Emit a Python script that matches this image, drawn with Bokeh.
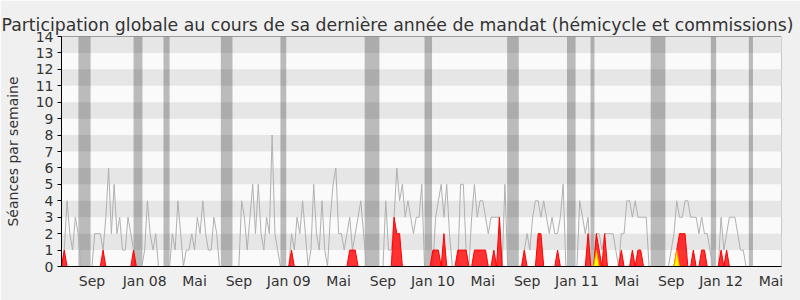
from bokeh.plotting import figure
from bokeh.models import Range1d, FixedTicker, Span
from bokeh.embed import file_html
from bokeh.resources import INLINE

# ---- data (weekly index) ----
weeks = list(range(260))

total = [
    0, 1, 4, 2, 1, 3, 2, 0, 0, 0,
    0, 0, 2, 2, 2, 1, 3, 6, 2, 5,
    2, 3, 1, 1, 3, 2, 1, 0, 0, 0,
    1, 4, 2, 1, 2, 0, 0, 0, 0, 0,
    2, 1, 4, 2, 0, 1, 1, 2, 1, 3,
    2, 4, 2, 1, 1, 3, 2, 0, 0, 0,
    0, 0, 0, 0, 0, 4, 3, 1, 3, 5,
    2, 5, 2, 1, 3, 2, 8, 2, 1, 0,
    0, 0, 0, 2, 1, 3, 2, 4, 2, 0,
    1, 5, 2, 1, 4, 1, 0, 3, 5, 6,
    2, 2, 1, 2, 3, 1, 2, 3, 4, 2,
    0, 0, 0, 0, 0, 0, 0, 4, 1, 1,
    3, 6, 4, 5, 3, 4, 3, 2, 3, 3,
    5, 0, 0, 0, 0, 3, 4, 5, 3, 5,
    2, 0, 0, 0, 5, 5, 1, 0, 3, 5,
    3, 4, 4, 3, 2, 3, 3, 3, 3, 0,
    5, 0, 0, 0, 0, 0, 0, 1, 2, 1,
    3, 4, 4, 3, 4, 3, 2, 3, 2, 2,
    3, 5, 0, 0, 0, 0, 0, 4, 3, 2,
    3, 0, 0, 2, 2, 1, 2, 2, 2, 2,
    1, 0, 2, 2, 4, 4, 3, 4, 3, 3,
    3, 3, 0, 0, 0, 0, 0, 0, 0, 0,
    1, 2, 4, 3, 3, 4, 4, 3, 3, 3,
    2, 3, 2, 2, 1, 0, 0, 0, 3, 1,
    2, 3, 3, 3, 2, 1, 1, 0, 0, 0,
    0, 0, 0, 0, 0, 0, 0, 0, 0, 0,
]

hemicycle = [
    0, 1, 0, 0, 0, 0, 0, 0, 0, 0,
    0, 0, 0, 0, 0, 1, 0, 0, 0, 0,
    0, 0, 0, 0, 0, 0, 1, 0, 0, 0,
    0, 0, 0, 0, 0, 0, 0, 0, 0, 0,
    0, 0, 0, 0, 0, 0, 0, 0, 0, 0,
    0, 0, 0, 0, 0, 0, 0, 0, 0, 0,
    0, 0, 0, 0, 0, 0, 0, 0, 0, 0,
    0, 0, 0, 0, 0, 0, 0, 0, 0, 0,
    0, 0, 0, 1, 0, 0, 0, 0, 0, 0,
    0, 0, 0, 0, 0, 0, 0, 0, 0, 0,
    0, 0, 0, 0, 1, 1, 1, 0, 0, 0,
    0, 0, 0, 0, 0, 0, 0, 0, 0, 0,
    3, 2, 2, 0, 0, 0, 0, 0, 0, 0,
    0, 0, 0, 0, 1, 1, 1, 0, 2, 0,
    0, 0, 0, 1, 1, 1, 1, 0, 0, 1,
    1, 1, 1, 1, 0, 0, 1, 0, 3, 0,
    0, 0, 0, 0, 0, 0, 0, 1, 0, 0,
    0, 0, 2, 2, 0, 0, 0, 0, 0, 1,
    0, 0, 0, 0, 0, 0, 0, 0, 0, 0,
    2, 0, 0, 2, 1, 0, 2, 0, 0, 0,
    0, 0, 1, 0, 0, 0, 1, 0, 1, 1,
    0, 0, 0, 0, 0, 0, 0, 0, 0, 0,
    0, 0, 1, 2, 2, 2, 0, 0, 1, 0,
    0, 1, 1, 0, 0, 0, 0, 0, 1, 0,
    1, 0, 0, 0, 0, 0, 0, 0, 0, 0,
    0, 0, 0, 0, 0, 0, 0, 0, 0, 0,
]

questions = [0] * 260
questions[193] = 1
questions[222] = 1

vac_start = [6.1, 26.0, 36.8, 57.5, 79.0, 109.4, 131.0, 160.8, 182.4, 190.9, 212.6, 234.3, 248.0]
vac_end = [10.5, 29.2, 39.0, 61.7, 81.1, 114.7, 133.7, 165.0, 185.5, 192.3, 217.9, 236.2, 249.5]

tick_pos = [11, 30, 48, 64, 82, 100, 116, 134, 152, 168, 186, 204, 220, 238, 256]
tick_labels = ["Sep", "Jan 08", "Mai", "Sep", "Jan 09", "Mai", "Sep", "Jan 10",
               "Mai", "Sep", "Jan 11", "Mai", "Sep", "Jan 12", "Mai"]

y_ticks = list(range(15))

FONT = "DejaVu Sans"

p = figure(width=800, height=300, output_backend="svg", toolbar_location=None,
           x_range=Range1d(0, 259.8), y_range=Range1d(0, 14),
           min_border_left=61, min_border_right=19, min_border_top=36, min_border_bottom=34,
           title="Participation globale au cours de sa dernière année de mandat (hémicycle et commissions)")

p.border_fill_color = "#f0f0f0"
p.background_fill_color = "#fafafa"
p.outline_line_color = "#c8c8c8"

p.title.text_font = FONT
p.title.text_font_size = "17.3px"
p.title.text_font_style = "normal"
p.title.text_color = "#333333"
p.title.align = "left"
p.title.offset = -60
p.title.standoff = 3

p.xgrid.visible = False
p.ygrid.ticker = FixedTicker(ticks=y_ticks)
p.ygrid.grid_line_color = None
p.ygrid.band_fill_color = "#e6e6e6"
p.ygrid.band_fill_alpha = 1.0

# vacation periods
p.quad(left=vac_start, right=vac_end, bottom=0, top=14,
       fill_color="black", fill_alpha=0.25, line_color=None)

# total presence
p.line(weeks, total, line_color="#b0b0b0", line_width=1)

# hemicycle
p.varea(x=weeks, y1=0, y2=hemicycle, fill_color="#ff0000", fill_alpha=0.8)
p.line(weeks, hemicycle, line_color="#ff0000", line_width=1)

# questions
p.varea(x=weeks, y1=0, y2=questions, fill_color="#ffff00", fill_alpha=1.0)
p.line(weeks, questions, line_color="#ff9900", line_width=1)

p.add_layout(Span(location=14, dimension="width", line_color="black",
                  line_dash="1 1", line_width=1))

# y axis
p.yaxis.ticker = FixedTicker(ticks=y_ticks)
p.yaxis.axis_label = "Séances par semaine"
p.yaxis.axis_label_text_font = FONT
p.yaxis.axis_label_text_font_size = "14px"
p.yaxis.axis_label_text_font_style = "normal"
p.yaxis.axis_label_text_color = "#333333"
p.yaxis.axis_label_standoff = 12
p.yaxis.major_label_text_font = FONT
p.yaxis.major_label_text_font_size = "14px"
p.yaxis.major_label_text_color = "#333333"
p.yaxis.major_label_standoff = 4
p.yaxis.major_tick_out = 4
p.yaxis.major_tick_in = 0
p.yaxis.minor_tick_out = 0
p.yaxis.minor_tick_in = 0
p.yaxis.axis_line_color = "black"
p.yaxis.major_tick_line_color = "black"

# x axis
p.xaxis.ticker = FixedTicker(ticks=tick_pos)
p.xaxis.major_label_overrides = {t: l for t, l in zip(tick_pos, tick_labels)}
p.xaxis.major_label_text_font = FONT
p.xaxis.major_label_text_font_size = "14px"
p.xaxis.major_label_text_color = "#333333"
p.xaxis.major_label_standoff = 6
p.xaxis.major_tick_out = 0
p.xaxis.major_tick_in = 0
p.xaxis.minor_tick_out = 0
p.xaxis.minor_tick_in = 0
p.xaxis.axis_line_color = "black"

open("out.html", "w").write(file_html(p, INLINE))
